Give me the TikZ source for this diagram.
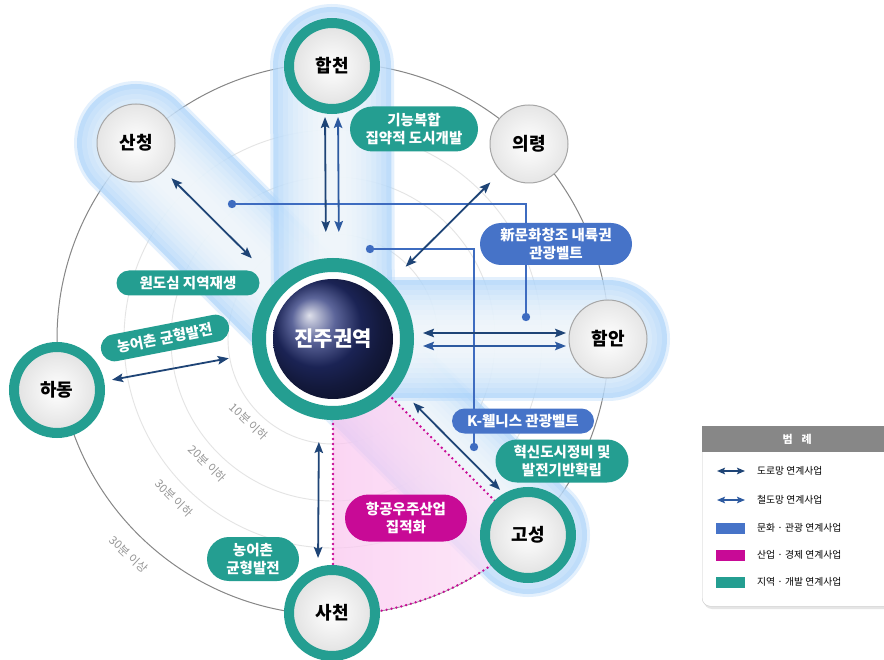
\documentclass[tikz,border=0pt]{standalone}
\usepackage{fontspec}
\setmainfont{Noto Sans CJK KR}
\usetikzlibrary{arrows.meta,shapes.misc,calc}

\definecolor{teal1}{RGB}{36,158,145}
\definecolor{tagblue}{RGB}{70,115,200}
\definecolor{tagmag}{RGB}{200,10,150}
\definecolor{navy}{RGB}{30,68,118}
\definecolor{railblue}{RGB}{45,90,160}
\definecolor{glow}{RGB}{176,214,250}
\definecolor{linkblue}{RGB}{62,108,192}
\definecolor{ringgray}{RGB}{135,135,135}
\definecolor{faintring}{RGB}{228,228,228}
\definecolor{pinkfill}{RGB}{250,200,240}
\definecolor{ballnavy}{RGB}{38,50,120}
\definecolor{legendgray}{RGB}{135,135,135}
\definecolor{minutegray}{RGB}{150,150,150}

\tikzset{
  band edge/.style={line width=124pt, draw=glow, draw opacity=0.35, line cap=round},
  band outer/.style={line width=118pt, draw=glow, draw opacity=0.7, line cap=round},
  band layer/.style={line width=#1, draw=white, draw opacity=0.16, line cap=round},
  road/.style={draw=navy, line width=1.8pt, >={Stealth[length=11pt,width=8.5pt,inset=2pt]}, <->},
  rail/.style={draw=railblue, line width=1.8pt, >={Stealth[length=11pt,width=8.5pt,inset=2pt]}, <->},
  link/.style={draw=linkblue, line width=1.4pt},
  linkdot/.style={fill=linkblue},
  dotted sector/.style={draw=tagmag, line width=2.6pt, dash pattern=on 0pt off 5pt, line cap=round},
  citytext/.style={font=\bfseries\fontsize{18}{20}\selectfont, text=black},
  cityT/.style={circle, minimum size=86pt, inner sep=0pt, draw=teal1, line width=10pt,
    inner color=white, outer color=black!12, citytext},
  cityW/.style={circle, minimum size=78pt, inner sep=0pt, draw=black!35, line width=1pt,
    inner color=white, outer color=black!10, citytext},
  tag/.style={rounded rectangle, inner sep=0pt, text=white, align=center,
    font=\bfseries\fontsize{14.5}{18.5}\selectfont},
  tagT/.style={tag, fill=teal1},
  tagB/.style={tag, fill=tagblue},
  tagM/.style={tag, fill=tagmag},
  minute/.style={text=minutegray, font=\fontsize{11.5}{13}\selectfont, inner sep=0pt},
  legtext/.style={anchor=west, inner sep=0pt, font=\fontsize{9.8}{12}\selectfont},
}

% one glowing corridor between two points
\newcommand\glowband[2]{%
  \draw[band edge] #1 -- #2;
  \draw[band outer] #1 -- #2;
  \foreach \w in {108,98,88,78,68,58,48,38,28}
    \draw[band layer=\w pt] #1 -- #2;
}

\begin{document}
\begin{tikzpicture}[x=1pt,y=-1pt]
\useasboundingbox (0,0) rectangle (884,660);
\fill[white] (0,0) rectangle (884,660);

% centres of the region nodes
\coordinate (pC)   at (333,339);
\coordinate (pHap) at (332,66);
\coordinate (pSan) at (136,143);
\coordinate (pUi)  at (529,144);
\coordinate (pHam) at (608,339);
\coordinate (pHa)  at (57,390);
\coordinate (pSa)  at (332,613);
\coordinate (pGo)  at (528,535);

% travel-time rings
\begin{scope}[shift={(333,339)}]
  \foreach \r in {105,162,209}
    \draw[faintring, line width=0.9pt] (0,0) circle[radius=\r];
  \draw[ringgray, line width=1pt] (0,0) circle[radius=276];
\end{scope}

% glowing corridors
\glowband{(pSan)}{(pGo)}
\glowband{(pC)}{(pHam)}
\glowband{(pHap)}{(pC)}

% aerospace cluster sector
\begin{scope}[shift={(333,339)}]
  \shade[left color=pinkfill, right color=pinkfill!50, fill opacity=0.75]
    (90:80) -- (90:276) arc[start angle=90, end angle=45, radius=276]
    -- (45:80) arc[start angle=45, end angle=90, radius=80] -- cycle;
  \draw[dotted sector] (90:80) -- (90:276) arc[start angle=90, end angle=45, radius=276] -- (45:80);
  % travel-time labels
  \node[minute, rotate=-44] at (135.5:118) {10분 이하};
  \node[minute, rotate=-45] at (135.2:177) {20분 이하};
  \node[minute, rotate=-45] at (135:225) {30분 이하};
  \node[minute, rotate=-43] at (133.5:297) {30분 이상};
\end{scope}

% tourism belt link lines
\coordinate (dA1) at (232,204);
\coordinate (dA2) at (526,317);
\coordinate (dB1) at (370,249);
\coordinate (dB2) at (474,447);
\draw[link] (dA1) -| (dA2);
\draw[link] (dB1) -| (dB2);
\foreach \d in {dA1,dA2,dB1,dB2}
  \fill[linkdot] (\d) circle[radius=4.2];

% region nodes
\node[circle, minimum size=148pt, inner sep=0pt, draw=teal1, line width=14pt, fill=white] (jinju) at (pC) {};
\node[circle, minimum size=120pt, inner sep=0pt, ball color=ballnavy, text=white,
      font=\bfseries\fontsize{21}{24}\selectfont] (jinjucore) at (pC) {진주권역};
\node[cityT] (hap) at (pHap) {합천};
\node[cityW] (san) at (pSan) {산청};
\node[cityW] (ui)  at (pUi)  {의령};
\node[cityW] (ham) at (pHam) {함안};
\node[cityT] (ha)  at (pHa)  {하동};
\node[cityT] (sa)  at (pSa)  {사천};
\node[cityT] (go)  at (pGo)  {고성};

% transport links
\draw[road, shorten <=10.5pt, shorten >=33.5pt] (san) -- (jinju);
\draw[road, shorten <=15pt, shorten >=21.5pt] (ui) -- (jinju);
\draw[road, shorten <=8pt, shorten >=25pt] (ha) -- (jinju);
\draw[road, shorten <=101.8pt, shorten >=51.7pt]
  ([shift={(8.5,-8.5)}]jinju.center) -- ([shift={(8.5,-8.5)}]go.center);
\draw[road, shorten <=22pt, shorten >=7pt] ([xshift=-14pt]jinju.south) -- ([xshift=-14pt]sa.north);
\draw[road, shorten <=3pt, shorten >=26pt] ([xshift=-7pt]hap.south) -- ([xshift=-7pt]jinju.north);
\draw[rail, shorten <=3pt, shorten >=26pt] ([xshift=6pt]hap.south) -- ([xshift=6pt]jinju.north);
\draw[road, shorten <=9pt, shorten >=2.5pt] ([yshift=6pt]jinju.east) -- ([yshift=6pt]ham.west);
\draw[rail, shorten <=9pt, shorten >=2.5pt] ([yshift=-7pt]jinju.east) -- ([yshift=-7pt]ham.west);

% project labels
\node[tagT, minimum width=128pt, minimum height=45pt] (tFunc) at (414,129) {기능복합\\집약적 도시개발};
\node[tagB, minimum width=152pt, minimum height=42pt] (tCult) at (556,244) {新문화창조 내륙권\\관광벨트};
\node[tagT, minimum width=143pt, minimum height=25pt] (tOld)  at (188,283) {원도심 지역재생};
\node[tagT, minimum width=130pt, minimum height=27pt, rotate=11] (tRur1) at (165,338) {농어촌 균형발전};
\node[tagB, minimum width=142pt, minimum height=25pt] (tWell) at (523,421) {K-웰니스 관광벨트};
\node[tagT, minimum width=133pt, minimum height=43pt] (tInno) at (562,461) {혁신도시정비 및\\발전기반확립};
\node[tagM, minimum width=122pt, minimum height=47pt] (tAero) at (406,518) {항공우주산업\\집적화};
\node[tagT, minimum width=92pt, minimum height=44pt] (tRur2) at (253,559) {농어촌\\균형발전};

% legend
\fill[black!10, rounded corners=8pt] (704,429) rectangle (896,609);
\node[draw=black!22, fill=white, rounded corners=8pt, minimum width=190pt, minimum height=180pt,
      anchor=north west, inner sep=0pt] (legend) at (702,426) {};
\node[fill=legendgray, text=white, minimum width=190pt, minimum height=26pt, anchor=north west,
      inner sep=0pt, font=\bfseries\fontsize{11}{12}\selectfont] (legtitle) at (702,426) {범\hspace{9pt}례};
\coordinate (lr1) at (717,471); \coordinate (lr2) at (745,471);
\coordinate (ll1) at (717,500); \coordinate (ll2) at (745,500);
\draw[road, line width=1.5pt, >={Stealth[length=8pt,width=6.5pt,inset=1.5pt]}] (lr1) -- (lr2);
\draw[rail, line width=1.5pt, >={Stealth[length=8pt,width=6.5pt,inset=1.5pt]}] (ll1) -- (ll2);
\node[legtext] at (757,471) {도로망 연계사업};
\node[legtext] at (757,500) {철도망 연계사업};
\fill[tagblue] (716,523) rectangle (745,534);
\node[legtext] at (757,528) {문화 · 관광 연계사업};
\fill[tagmag] (716,550) rectangle (745,561);
\node[legtext] at (757,555) {산업 · 경제 연계사업};
\fill[teal1] (716,577) rectangle (745,588);
\node[legtext] at (757,582) {지역 · 개발 연계사업};
\end{tikzpicture}
\end{document}
